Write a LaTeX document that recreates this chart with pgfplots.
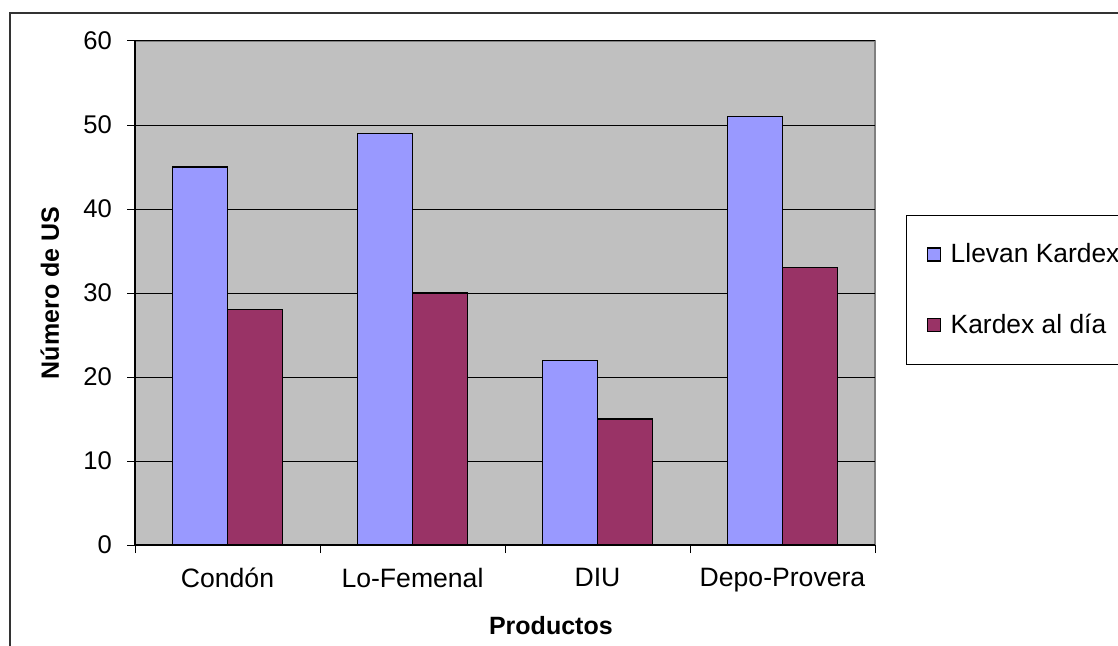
\documentclass[border=0pt]{standalone}
\usepackage{pgfplots}
\pgfplotsset{compat=1.18}
\usepackage{fontspec}
\setmainfont{Liberation Sans}

\definecolor{plotgray}{HTML}{C0C0C0}
\definecolor{framegray}{HTML}{808080}
\definecolor{llevan}{HTML}{9999FF}
\definecolor{aldia}{HTML}{993366}

\begin{document}
\begin{tikzpicture}
% 1 px of the reference = 0.5pt, origin at the top left corner
\draw[line width=0.8pt, black!80] (5pt,-330pt) -- (5pt,-6.5pt) -- (565pt,-6.5pt);

\begin{axis}[
    at={(67.5pt,-272.5pt)}, anchor=south west,
    scale only axis,
    width=370pt, height=252pt,
    ybar=0pt,
    bar width=27.5pt,
    xmin=-0.5, xmax=3.5,
    ymin=0, ymax=60,
    ytick={0,10,...,60},
    xtick={-0.5,0.5,1.5,2.5,3.5},
    xticklabels={},
    extra x ticks={0,1,2,3},
    extra x tick labels={Condón,Lo-Femenal,DIU,Depo-Provera},
    extra x tick style={major tick length=0pt, grid=none,
        tick label style={yshift=-8pt, font=\fontsize{13.3}{16}\selectfont}},
    axis x line*=bottom,
    axis y line*=left,
    axis line style={black, line width=0.6pt},
    axis background/.style={fill=plotgray, draw=framegray, line width=1pt},
    tick align=outside,
    major tick length=4pt,
    tick style={black, line width=0.5pt},
    ymajorgrids=true,
    grid style={black, line width=0.5pt},
    /pgf/number format/assume math mode=true,
    tick label style={font=\fontsize{12.8}{15}\selectfont},
    yticklabel style={xshift=-4pt},
    xlabel={\textbf{Productos}},
    ylabel={\textbf{Número de US}},
    xlabel style={at={(axis description cs:0.562,-0.159)}, anchor=center,
        font=\fontsize{12.5}{15}\selectfont},
    ylabel style={at={(axis description cs:-0.115,0.5)}, anchor=center,
        font=\fontsize{12.5}{15}\selectfont},
    legend style={at={(axis description cs:1.0419,0.6548)}, anchor=north west,
        draw=black, line width=0.5pt, fill=white,
        font=\fontsize{13.2}{15.8}\selectfont,
        inner xsep=10pt, inner ysep=12pt,
        row sep=20pt,
        /tikz/every odd column/.append style={column sep=3pt}},
    legend cell align=left,
    legend image code/.code={%
        \draw[#1, draw=black, line width=0.6pt] (0pt,-3.25pt) rectangle (6.5pt,3.25pt);},
]
\addplot[fill=llevan, draw=black, line width=0.6pt] coordinates {
    (0,45) (1,49) (2,22) (3,51)
};
\addplot[fill=aldia, draw=black, line width=0.6pt] coordinates {
    (0,28) (1,30) (2,15) (3,33)
};
\legend{Llevan Kardex, Kardex al día}
\end{axis}

\pgfresetboundingbox
\useasboundingbox (0pt,0pt) rectangle (559pt,-323pt);
\end{tikzpicture}
\end{document}
